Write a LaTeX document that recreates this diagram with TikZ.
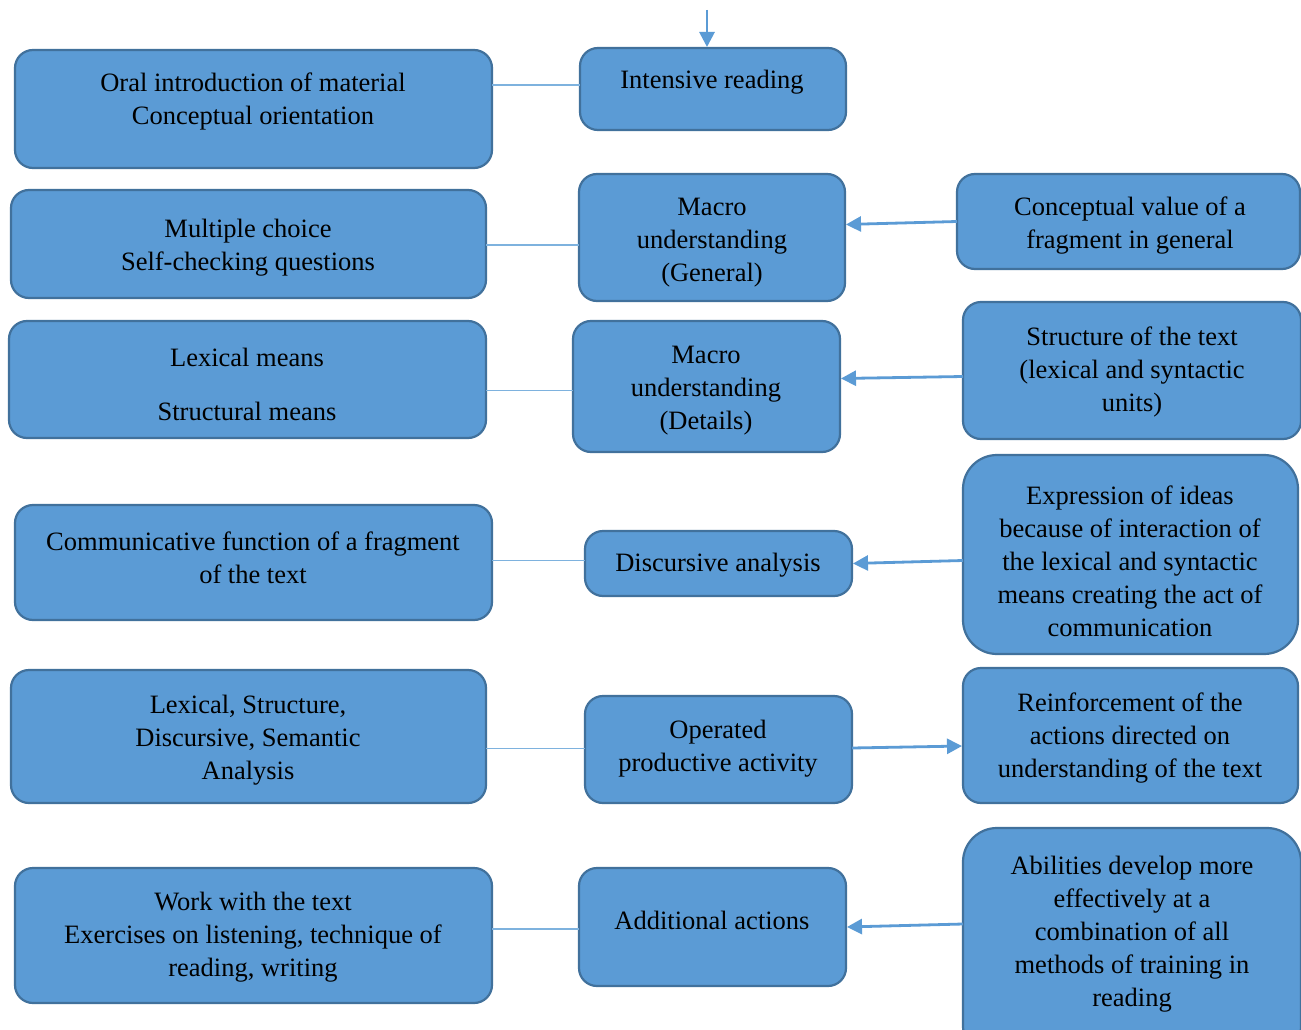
\documentclass[tikz,border=0pt]{standalone}
\usepackage{fontspec}
\setmainfont{Liberation Serif}
\usetikzlibrary{arrows.meta}
\definecolor{boxfill}{HTML}{5B9BD5}
\definecolor{boxline}{HTML}{41719C}
\definecolor{linkc}{HTML}{7EB2DE}
\tikzset{
  box/.style={draw=boxline, fill=boxfill, line width=2.2pt, rounded corners=18pt, inner sep=0pt, outer sep=0pt},
  bigbox/.style={box, rounded corners=34pt},
  txt/.style={align=center, inner sep=0pt, yshift=-3pt, font=\fontsize{26.5}{33}\selectfont, text=black},
  link/.style={draw=linkc, line width=1.3pt},
  arr/.style={draw=boxfill, line width=2.8pt, -{Triangle[length=15pt,width=15pt]}, shorten >=1pt}
}
\newcommand{\mkbox}[7]{% style, name, x1, y1, x2, y2
  \node[#1, minimum width={(#5)-(#3)}, minimum height={(#6)-(#4)}] (#2) at ({((#3)+(#5))/2},{((#4)+(#6))/2}) {};}
\begin{document}
\begin{tikzpicture}[x=1pt,y=-1pt]
\useasboundingbox (0,0) rectangle (1301,1030);
\clip (0,0) rectangle (1301,1030);
\fill[white] (0,0) rectangle (1301,1030);

\mkbox{box}{b1}{15}{50}{492}{168}{}
\mkbox{box}{b2}{580}{48}{846}{130}{}
\mkbox{box}{b3}{11}{190}{486}{298}{}
\mkbox{box}{b4}{579}{174}{845}{301}{}
\mkbox{box}{b5}{957}{174}{1300}{269}{}
\mkbox{box}{b6}{9}{321}{486}{438}{}
\mkbox{box}{b7}{573}{321}{840}{452}{}
\mkbox{box}{b8}{963}{302}{1301}{439}{}
\mkbox{box}{b9}{15}{505}{492}{620}{}
\mkbox{box}{b10}{585}{531}{852}{596}{}
\mkbox{bigbox}{b11}{963}{455}{1298}{654}{}
\mkbox{box}{b12}{11}{670}{486}{803}{}
\mkbox{box}{b13}{585}{696}{852}{803}{}
\mkbox{box}{b14}{963}{668}{1298}{803}{}
\mkbox{box}{b15}{15}{868}{492}{1003}{}
\mkbox{box}{b16}{579}{868}{846}{986}{}
\mkbox{bigbox}{b17}{963}{828}{1301}{1060}{}

\node[txt] (t1) at (253,98.5) {Oral introduction of material\\Conceptual orientation};
\node[txt] (t2) at (712,79) {Intensive reading};
\node[txt] (t3) at (248,244.5) {Multiple choice\\Self-checking questions};
\node[txt] (t4) at (712,240) {Macro\\understanding\\(General)};
\node[txt] (t5) at (1130,222.5) {Conceptual value of a\\fragment in general};
\node[txt] (t6a) at (247,354) {Lexical means};
\node[txt] (t6b) at (247,408) {Structural means};
\node[txt] (t7) at (706,388) {Macro\\understanding\\(Details)};
\node[txt] (t8) at (1132,369) {Structure of the text\\(lexical and syntactic\\units)};
\node[txt] (t9) at (253,554.5) {Communicative function of a fragment\\of the text};
\node[txt] (t10) at (718,562) {Discursive analysis};
\node[txt] (t11) at (1130,558) {Expression of ideas\\because of interaction of\\the lexical and syntactic\\means creating the act of\\communication};
\node[txt] (t12) at (248,737) {Lexical, Structure,\\Discursive, Semantic\\Analysis};
\node[txt] (t13) at (718,745.5) {Operated\\productive activity};
\node[txt] (t14) at (1130,735) {Reinforcement of the\\actions directed on\\understanding of the text};
\node[txt] (t15) at (253,934.5) {Work with the text\\Exercises on listening, technique of\\reading, writing};
\node[txt] (t16) at (712,917) {Additional actions};
\node[txt] (t17) at (1132,931) {Abilities develop more\\effectively at a\\combination of all\\methods of training in\\reading};

% plain links
\draw[link] ([yshift=4pt]b2.west -| b1.east) -- ([yshift=4pt]b2.west);
\draw[link] ([yshift=-1pt]b3.east) -- ([yshift=-1pt]b3.east -| b4.west);
\draw[link] ([yshift=-4pt]b7.west -| b6.east) -- ([yshift=-4pt]b7.west);
\draw[link] ([yshift=3pt]b10.west -| b9.east) -- ([yshift=3pt]b10.west);
\draw[link] ([yshift=1pt]b13.west -| b12.east) -- ([yshift=1pt]b13.west);
\draw[link] ([yshift=-2pt]b16.west -| b15.east) -- ([yshift=-2pt]b16.west);

% arrows
\coordinate (top) at (707,10);
\draw[arr] (top) -- (b2.north -| top);
\draw[arr] (b5.west) -- ([yshift=-3pt]b5.west -| b4.east);
\draw[arr] ([yshift=-6pt]b8.west) -- ([yshift=-8pt]b8.west -| b7.east);
\draw[arr] ([yshift=-6pt]b11.west) -- ([yshift=-9pt]b11.west -| b10.east);
\draw[arr] ([yshift=1.5pt]b13.east) -- ([yshift=3.5pt]b13.east -| b14.west);
\draw[arr] ([yshift=3pt]b16.east -| b17.west) -- (b16.east);
\end{tikzpicture}
\end{document}
